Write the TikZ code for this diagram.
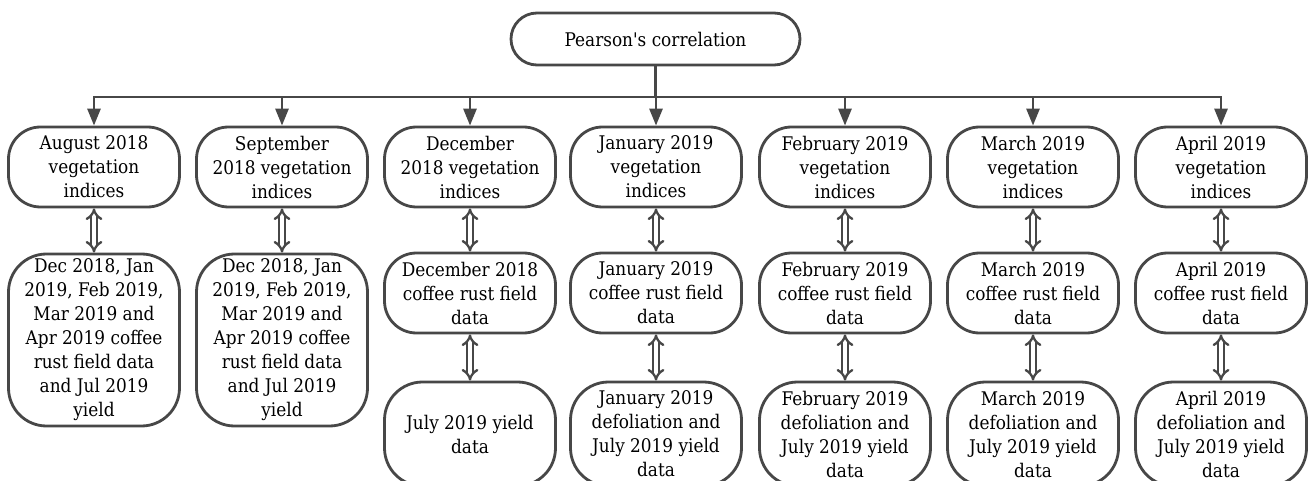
\documentclass[tikz,border=0pt]{standalone}
\usepackage{fontspec}
\setmainfont{DejaVu Serif Condensed}
\usetikzlibrary{arrows.meta,shapes.misc}
\definecolor{ln}{HTML}{474747}
\begin{document}
\begin{tikzpicture}[x=1pt,y=-1pt,
  every node/.style={font=\fontsize{18.8pt}{24pt}\selectfont, text=black, align=center, inner sep=0pt},
  box/.style={draw=ln, line width=2.8pt, rounded corners=32pt, minimum width=171pt, fill=white},
  topbox/.style={box, minimum height=80pt},
  tallbox/.style={box, minimum height=172pt, rounded corners=38pt},
  lowbox/.style={box, minimum height=104pt, rounded corners=38pt},
  pcbox/.style={draw=ln, line width=2.8pt, rounded rectangle, minimum width=289pt, minimum height=52pt, fill=white},
  arr/.style={draw=ln, line width=2.8pt, -{Triangle[width=13pt,length=17pt]}},
  ln/.style={draw=ln, line width=2.8pt},
  dbl/.style={draw=ln, double=white, double distance=3.2pt, line width=2.3pt, {Implies[length=8pt,width=20pt]}-{Implies[length=8pt,width=20pt]}}
]
\useasboundingbox (0,0) rectangle (1309,481);
\clip (0,0) rectangle (1309,481);

\node[pcbox] (pc) at (655.5,39) {Pearson\textquotesingle s correlation};
\coordinate (bus) at (655.5,97);

% row 1
\node[topbox] (v1) at (94,167) {August 2018\\vegetation\\indices};
\node[topbox] (v2) at (282,167) {September\\2018 vegetation\\indices};
\node[topbox] (v3) at (470,167) {December\\2018 vegetation\\indices};
\node[topbox] (v4) at (656,167) {January 2019\\vegetation\\indices};
\node[topbox] (v5) at (845,167) {February 2019\\vegetation\\indices};
\node[topbox] (v6) at (1033,167) {March 2019\\vegetation\\indices};
\node[topbox] (v7) at (1221,167) {April 2019\\vegetation\\indices};

% row 2
\node[tallbox] (f1) at (94,340) {Dec 2018, Jan\\2019, Feb 2019,\\Mar 2019 and\\Apr 2019 coffee\\rust field data\\and Jul 2019\\yield};
\node[tallbox] (f2) at (282,340) {Dec 2018, Jan\\2019, Feb 2019,\\Mar 2019 and\\Apr 2019 coffee\\rust field data\\and Jul 2019\\yield};
\node[topbox] (f3) at (470,293) {December 2018\\coffee rust field\\data};
\node[topbox] (f4) at (656,293) {January 2019\\coffee rust field\\data};
\node[topbox] (f5) at (845,293) {February 2019\\coffee rust field\\data};
\node[topbox] (f6) at (1033,293) {March 2019\\coffee rust field\\data};
\node[topbox] (f7) at (1221,293) {April 2019\\coffee rust field\\data};

% row 3
\node[lowbox] (y3) at (470,434) {July 2019 yield\\data};
\node[lowbox] (y4) at (656,434) {January 2019\\defoliation and\\July 2019 yield\\data};
\node[lowbox] (y5) at (845,434) {February 2019\\defoliation and\\July 2019 yield\\data};
\node[lowbox] (y6) at (1033,434) {March 2019\\defoliation and\\July 2019 yield\\data};
\node[lowbox] (y7) at (1221,434) {April 2019\\defoliation and\\July 2019 yield\\data};

% connectors from Pearson's correlation
\draw[ln] (pc.south) -- (bus);
\foreach \n in {v1,v2,v3,v4,v5,v6,v7}{
  \draw[arr] (bus) -| (\n.north);
}

% double arrows
\foreach \a/\b in {v1/f1,v2/f2,v3/f3,v4/f4,v5/f5,v6/f6,v7/f7,f3/y3,f4/y4,f5/y5,f6/y6,f7/y7}{
  \draw[dbl] (\a.south) -- (\b.north);
}
\end{tikzpicture}
\end{document}
